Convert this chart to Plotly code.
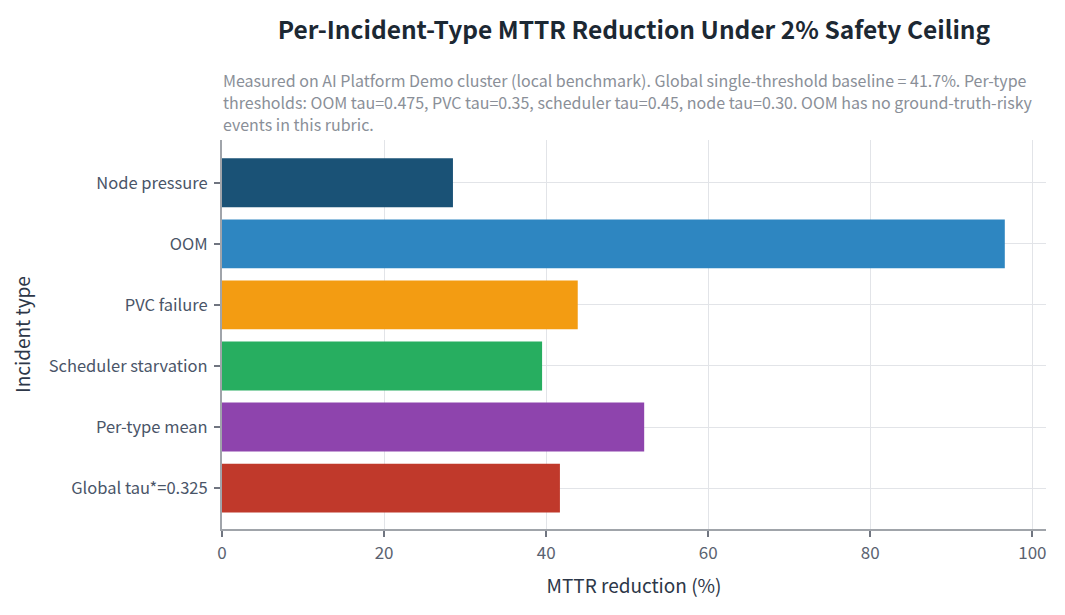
import plotly.graph_objects as go

# incident types, bottom-to-top order as plotted
categories = ["Global tau*=0.325", "Per-type mean", "Scheduler starvation",
              "PVC failure", "OOM", "Node pressure"]
mttr_reduction = [41.7, 52.1, 39.5, 43.9, 96.6, 28.5]
bar_colors = ["#c0392b", "#8e44ad", "#27ae60", "#f39c12", "#2e86c1", "#1a5276"]

subtitle_lines = [
    "Measured on AI Platform Demo cluster (local benchmark). Global single-threshold baseline = 41.7%. Per-type",
    "thresholds: OOM tau=0.475, PVC tau=0.35, scheduler tau=0.45, node tau=0.30. OOM has no ground-truth-risky",
    "events in this rubric.",
]

FONT = "Noto Sans CJK KR, Noto Sans, sans-serif"

fig = go.Figure()
fig.add_trace(go.Bar(
    x=mttr_reduction,
    y=categories,
    orientation="h",
    marker=dict(color=bar_colors, line=dict(width=0)),
    showlegend=False,
))

# page body has an 8px margin, so offsets below are shifted by that
fig.update_layout(
    width=1065, height=615,
    margin=dict(l=214, r=27, t=132, b=94),
    paper_bgcolor="white",
    plot_bgcolor="white",
    font=dict(family=FONT, size=16, color="#4a5568"),
    bargap=0.2,
    title=dict(
        text="Per-Incident-Type MTTR Reduction Under 2% Safety Ceiling",
        x=0.5, xref="paper", xanchor="center",
        y=0.964, yanchor="middle",
        font=dict(family=FONT, size=24.5, weight=600, color="#1c2833"),
    ),
)

# subtitle, one line per annotation (top line first)
for i, line in enumerate(subtitle_lines):
    fig.add_annotation(
        text=line,
        xref="paper", yref="paper",
        x=0, y=1.0, xanchor="left", yanchor="middle",
        yshift=60.5 - 22 * i,
        borderpad=0,
        align="left",
        showarrow=False,
        font=dict(family=FONT, size=16, color="#8a8f98"),
    )

fig.update_xaxes(
    title=dict(text="MTTR reduction (%)", font=dict(size=19, color="#2d3748"), standoff=16),
    showgrid=True, gridcolor="#e2e4e8",
    showline=True, linecolor="#a0a4aa", linewidth=2,
    ticks="outside", tickcolor="#707580", ticklen=6, tickwidth=2,
    tickfont=dict(size=17, color="#5a6270"),
    ticklabelstandoff=2,
    zeroline=False,
    dtick=20,
)
fig.update_yaxes(
    title=dict(text="Incident type", font=dict(size=19, color="#2d3748")),
    showgrid=True, gridcolor="#e2e4e8",
    showline=True, linecolor="#a0a4aa", linewidth=2,
    ticks="outside", tickcolor="#707580", ticklen=6, tickwidth=2,
    tickfont=dict(size=16.5, color="#4a5568"),
    ticklabelstandoff=3,
    range=[-0.67, 5.7],
)

fig.write_html("out.html")
